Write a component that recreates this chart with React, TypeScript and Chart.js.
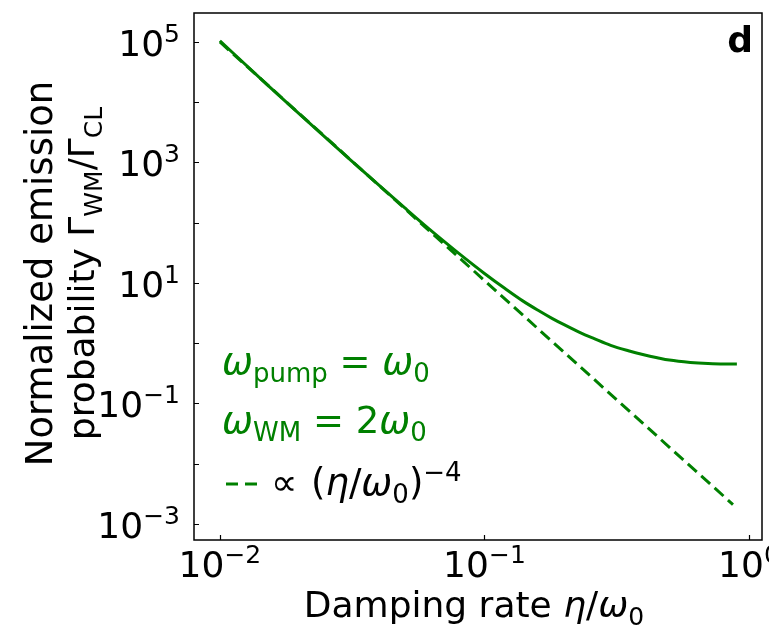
import React, { useEffect, useRef } from 'react';
import { Chart, registerables } from 'chart.js';
Chart.register(...registerables);

// Solid curve: normalized emission probability
const xSolid = [0.01, 0.015, 0.02, 0.03, 0.04, 0.05, 0.06, 0.07, 0.08, 0.1, 0.12, 0.14, 0.16, 0.18, 0.2, 0.23, 0.26, 0.3, 0.35, 0.4, 0.45, 0.5, 0.6, 0.7, 0.8, 0.9];
const ySolid = [1.05e5, 2.0e4, 6.35e3, 1.28e3, 416, 176, 88, 50, 31, 14.4, 8.0, 5.0, 3.49, 2.59, 2.03, 1.5, 1.19, 0.92, 0.75, 0.645, 0.575, 0.525, 0.48, 0.46, 0.452, 0.452];
// Dashed reference line ∝ (η/ω0)^-4
const xDashed = [0.01, 0.87];
const yDashed = [1.0e5, 2.1e-3];

const xTickExps = [-2, -1, 0];
const yTickExps = [-3, -2, -1, 0, 1, 2, 3, 4, 5];
const yLabelExps = [5, 3, 1, -1, -3];

const X_MIN = 0.00798;
const X_MAX = 1.12;
const Y_MIN = 5.42e-4;
const Y_MAX = 3.03e5;

const GREEN = '#008000';
const FF = '"DejaVu Sans", sans-serif';
const S = 36;
const SS = 25;

type Run = { t: string; size: number; italic?: boolean; bold?: boolean; dy?: number };
const n = (t: string, size = S): Run => ({ t, size });
const it = (t: string, size = S): Run => ({ t, size, italic: true });
const sub = (t: string, size = SS): Run => ({ t, size, dy: 8 });
const sup = (t: string, size = SS): Run => ({ t, size, dy: -14 });

function fontOf(r: Run) {
  return `${r.italic ? 'italic ' : ''}${r.bold ? 'bold ' : ''}${r.size}px ${FF}`;
}
function measure(ctx: CanvasRenderingContext2D, runs: Run[]) {
  let w = 0;
  for (const r of runs) {
    ctx.font = fontOf(r);
    w += ctx.measureText(r.t).width;
  }
  return w;
}
function drawRuns(ctx: CanvasRenderingContext2D, runs: Run[], x: number, y: number, align: string, color: string) {
  const w = measure(ctx, runs);
  let cx = align === 'left' ? x : align === 'center' ? x - w / 2 : x - w;
  ctx.fillStyle = color;
  ctx.textAlign = 'left';
  ctx.textBaseline = 'alphabetic';
  for (const r of runs) {
    ctx.font = fontOf(r);
    ctx.fillText(r.t, cx, y + (r.dy || 0));
    cx += ctx.measureText(r.t).width;
  }
}
const expStr = (e: number) => (e < 0 ? '\u2212' + Math.abs(e) : String(e));

const decorPlugin = {
  id: 'decor',
  afterDraw(chart: any) {
    const { ctx, chartArea: a } = chart;
    const xs = chart.scales.x;
    const ys = chart.scales.y;
    ctx.save();
    // frame
    ctx.strokeStyle = '#000';
    ctx.lineWidth = 1.5;
    ctx.strokeRect(a.left, a.top, a.right - a.left, a.bottom - a.top);
    // ticks (inward)
    ctx.lineWidth = 1.2;
    ctx.beginPath();
    for (const e of yTickExps) {
      const py = Math.round(ys.getPixelForValue(Math.pow(10, e))) + 0.5;
      ctx.moveTo(a.left, py);
      ctx.lineTo(a.left + 5, py);
    }
    for (const e of xTickExps) {
      const px = Math.round(xs.getPixelForValue(Math.pow(10, e))) + 0.5;
      ctx.moveTo(px, a.bottom);
      ctx.lineTo(px, a.bottom - 5);
    }
    ctx.stroke();
    // tick labels
    for (const e of yLabelExps) {
      const py = ys.getPixelForValue(Math.pow(10, e));
      drawRuns(ctx, [n('10'), sup(expStr(e))], a.left - 14, py + 14, 'right', '#000');
    }
    for (const e of xTickExps) {
      const px = xs.getPixelForValue(Math.pow(10, e));
      drawRuns(ctx, [n('10'), sup(expStr(e))], px, a.bottom + 37, 'center', '#000');
    }
    // x axis title
    drawRuns(ctx, [n('Damping rate '), it('\u03b7'), n('/'), it('\u03c9'), sub('0')], (a.left + a.right) / 2 - 4, 617, 'center', '#000');
    // y axis title
    ctx.save();
    ctx.translate(0, (a.top + a.bottom) / 2 - 3);
    ctx.rotate(-Math.PI / 2);
    drawRuns(ctx, [n('Normalized emission', 37)], 0, 52, 'center', '#000');
    drawRuns(ctx, [n('probability '), n('\u0393'), sub('WM'), n('/'), n('\u0393'), sub('CL')], 0, 94, 'center', '#000');
    ctx.restore();
    // panel letter
    ctx.font = `bold 36px ${FF}`;
    ctx.fillStyle = '#000';
    ctx.textAlign = 'right';
    ctx.fillText('d', 753, 52);
    // annotation / legend
    const L = 37;
    const LS = 26;
    drawRuns(ctx, [it('\u03c9', L), sub('pump', LS), n(' = ', L), it('\u03c9', L), sub('0', LS)], 222, 374, 'left', GREEN);
    drawRuns(ctx, [it('\u03c9', L), sub('WM', LS), n(' = 2', L), it('\u03c9', L), sub('0', LS)], 222, 433, 'left', GREEN);
    ctx.strokeStyle = GREEN;
    ctx.lineWidth = 3;
    ctx.setLineDash([12, 7]);
    ctx.beginPath();
    ctx.moveTo(226, 484);
    ctx.lineTo(263, 484);
    ctx.stroke();
    ctx.setLineDash([]);
    drawRuns(ctx, [n('\u221d', L)], 271, 495, 'left', '#000');
    drawRuns(ctx, [n('(', L), it('\u03b7', L), n('/', L), it('\u03c9', L), sub('0', LS), n(')', L), sup('\u22124', LS)], 311, 495, 'left', '#000');
    ctx.restore();
  },
};

export default function App() {
  const ref = useRef<HTMLCanvasElement>(null);
  useEffect(() => {
    if (!ref.current) return;
    const fixRange = (min: number, max: number) => (s: any) => {
      s.min = min;
      s.max = max;
    };
    const chart = new Chart(ref.current, {
      type: 'line',
      data: {
        datasets: [
          {
            data: xSolid.map((x, i) => ({ x, y: ySolid[i] })),
            borderColor: GREEN,
            borderWidth: 3,
            pointRadius: 0,
            fill: false,
            cubicInterpolationMode: 'monotone',
          },
          {
            data: xDashed.map((x, i) => ({ x, y: yDashed[i] })),
            borderColor: GREEN,
            borderWidth: 3,
            borderDash: [12, 6],
            pointRadius: 0,
            fill: false,
          },
        ],
      },
      options: {
        animation: false,
        responsive: false,
        devicePixelRatio: 1,
        layout: { padding: { left: 194, right: 7, top: 13, bottom: 87 } },
        plugins: { legend: { display: false }, tooltip: { enabled: false } },
        scales: {
          x: {
            type: 'logarithmic',
            display: false,
            min: X_MIN,
            max: X_MAX,
            bounds: 'data',
            afterBuildTicks: fixRange(X_MIN, X_MAX),
          },
          y: {
            type: 'logarithmic',
            display: false,
            min: Y_MIN,
            max: Y_MAX,
            bounds: 'data',
            afterBuildTicks: fixRange(Y_MIN, Y_MAX),
          },
        },
      } as any,
      plugins: [decorPlugin],
    });
    return () => chart.destroy();
  }, []);
  return (
    <div style={{ position: 'absolute', left: 0, top: 0, width: 769, height: 627, background: '#fff' }}>
      <canvas ref={ref} width={769} height={627} style={{ display: 'block' }} />
    </div>
  );
}
